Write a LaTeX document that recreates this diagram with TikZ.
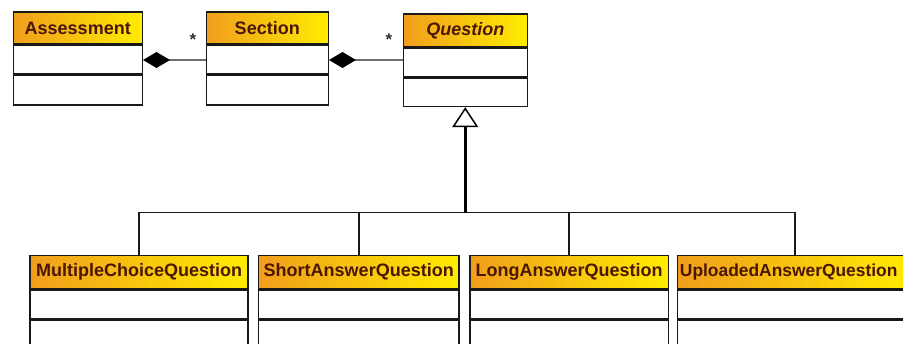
\documentclass[tikz,border=0pt]{standalone}
\usepackage{fontspec}
\setmainfont{Liberation Sans}
\usetikzlibrary{arrows.meta}
\definecolor{hdrL}{RGB}{240,158,28}
\definecolor{hdrR}{RGB}{255,236,0}
\definecolor{txt}{RGB}{75,22,2}
\definecolor{boxline}{RGB}{25,25,25}
\definecolor{assoc}{RGB}{110,110,110}
\tikzset{
  hdr/.style={draw=boxline, line width=1.5pt, left color=hdrL, right color=hdrR,
    anchor=north west, inner sep=0pt, text=txt,
    font=\fontsize{18}{20}\selectfont\bfseries},
  cmp/.style={draw=boxline, line width=1.5pt, fill=white, anchor=north, inner sep=0pt},
  assocline/.style={draw=assoc, line width=2.2pt},
  comp/.style={{Diamond[length=27pt,width=16pt,color=black,fill=black]}-},
  mult/.style={inner sep=0pt, text=black!80, font=\fontsize{17}{18}\selectfont\bfseries},
  genline/.style={draw=black, line width=2.8pt},
  busline/.style={draw=boxline, line width=1.5pt},
}
\begin{document}
\begin{tikzpicture}[x=1pt,y=-1pt]
\useasboundingbox (0,0) rectangle (903,344);
\clip (0,0) rectangle (903,344);
\fill[white] (0,0) rectangle (903,344);

% Assessment
\node[hdr, minimum width=129pt, minimum height=32pt] (A-h) at (12.5,11.5) {Assessment};
\node[cmp, minimum width=129pt, minimum height=28.5pt] (A-a) at (A-h.south) {};
\node[cmp, minimum width=129pt, minimum height=29.5pt] (A-o) at (A-a.south) {};

% Section
\node[hdr, minimum width=122pt, minimum height=32pt] (S-h) at (205.5,11.5) {Section};
\node[cmp, minimum width=122pt, minimum height=28.5pt] (S-a) at (S-h.south) {};
\node[cmp, minimum width=122pt, minimum height=29.5pt] (S-o) at (S-a.south) {};

% Question
\node[hdr, minimum width=124pt, minimum height=32.4pt, font=\fontsize{18}{20}\selectfont\bfseries\itshape] (Q-h) at (402.5,13.3) {Question};
\node[cmp, minimum width=124pt, minimum height=29pt] (Q-a) at (Q-h.south) {};
\node[cmp, minimum width=124pt, minimum height=28pt] (Q-o) at (Q-a.south) {};

% subclasses
\node[hdr, minimum width=218pt, minimum height=32.7pt] (M-h) at (29.3,255) {MultipleChoiceQuestion};
\node[cmp, minimum width=218pt, minimum height=28.6pt] (M-a) at (M-h.south) {};
\node[cmp, minimum width=218pt, minimum height=27.5pt] (M-o) at (M-a.south) {};

\node[hdr, minimum width=200.6pt, minimum height=32.7pt] (Sh-h) at (257.7,255) {ShortAnswerQuestion};
\node[cmp, minimum width=200.6pt, minimum height=28.6pt] (Sh-a) at (Sh-h.south) {};
\node[cmp, minimum width=200.6pt, minimum height=27.5pt] (Sh-o) at (Sh-a.south) {};

\node[hdr, minimum width=198.7pt, minimum height=32.7pt] (L-h) at (469,255) {LongAnswerQuestion};
\node[cmp, minimum width=198.7pt, minimum height=28.6pt] (L-a) at (L-h.south) {};
\node[cmp, minimum width=198.7pt, minimum height=27.5pt] (L-o) at (L-a.south) {};

\node[hdr, minimum width=235pt, minimum height=32.7pt, inner xsep=2.5pt, text width=230pt, align=left,
      font=\fontsize{17.4}{20}\selectfont\bfseries] (U-h) at (676.7,255) {UploadedAnswerQuestion};
\node[cmp, minimum width=235pt, minimum height=28.6pt] (U-a) at (U-h.south) {};
\node[cmp, minimum width=235pt, minimum height=27.5pt] (U-o) at (U-a.south) {};

% compositions
\draw[assocline, comp] (A-a.east) -- (S-a.west);
\draw[assocline, comp] (S-a.east) -- (S-a.east -| Q-a.west);
\node[mult] (m1) at (193,40) {*};
\node[mult] (m2) at (389,40) {*};

% generalization
\coordinate (bus) at (Q-o.south |- 0,212.7);
\draw[busline] (M-h.north) -- (M-h.north |- bus) -- (U-h.north |- bus) -- (U-h.north);
\draw[busline] (Sh-h.north) -- (Sh-h.north |- bus);
\draw[busline] (L-h.north) -- (L-h.north |- bus);
\draw[genline, -{Triangle[open, length=20pt, width=26pt, line width=1.5pt]}] (bus) -- (Q-o.south);
\end{tikzpicture}
\end{document}
